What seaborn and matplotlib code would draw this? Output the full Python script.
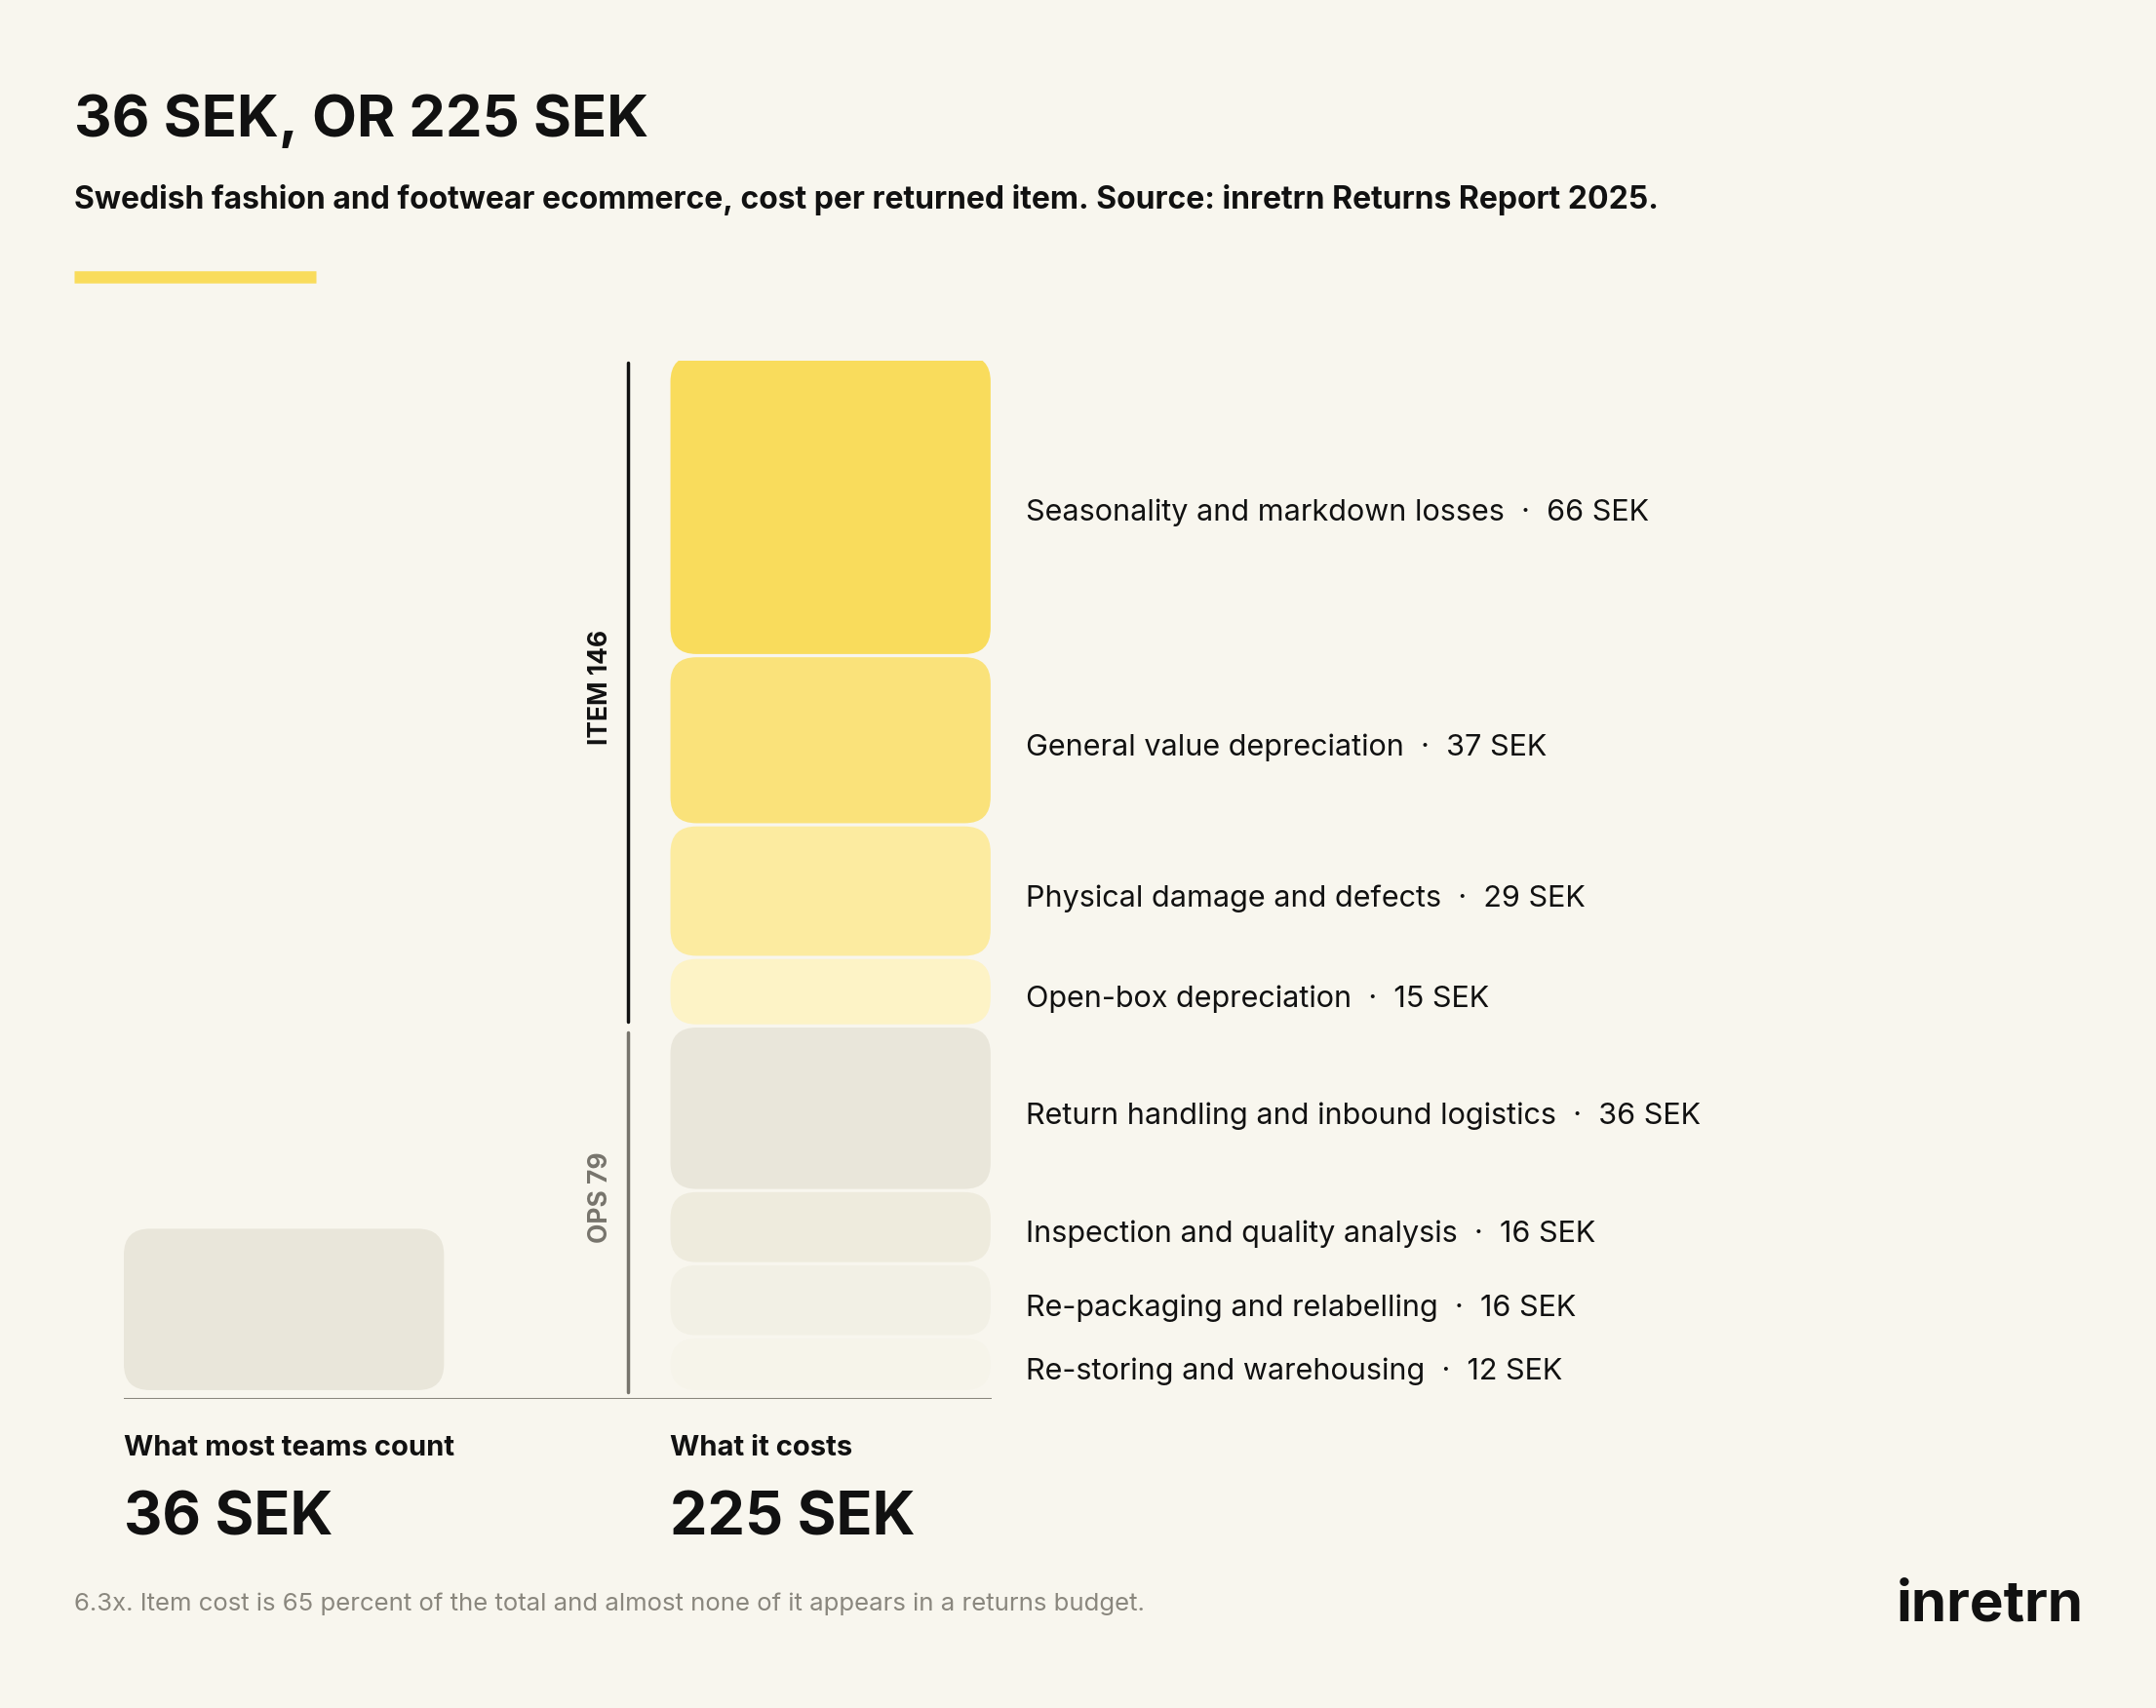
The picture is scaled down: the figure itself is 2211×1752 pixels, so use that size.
import matplotlib
matplotlib.use("Agg")
import matplotlib.pyplot as plt
import seaborn as sns
import pandas as pd
from matplotlib.patches import FancyBboxPatch

categories = ["Re-storing and warehousing", "Re-packaging and relabelling",
              "Inspection and quality analysis", "Return handling and inbound logistics",
              "Open-box depreciation", "Physical damage and defects",
              "General value depreciation", "Seasonality and markdown losses"]
values = [12, 16, 16, 36, 15, 29, 37, 66]
colors = ["#F6F4EA", "#F2F0E5", "#EEEBDD", "#E9E6DA",
          "#FDF3C6", "#FCEBA0", "#FAE27A", "#F9DC5C"]
counted = 36
ops_total = 79
item_total = 146
total = 225

BG = "#F8F6EE"
sns.set_theme(style="white")
plt.rcParams['font.family'] = ['Inter', 'DejaVu Sans']

fig = plt.figure(figsize=(22.11, 17.52), dpi=100, facecolor=BG)
W, H = 1568, 1242
def fx(x): return x / W
def fy(y): return 1 - y / H

fig.text(fx(54), fy(88), "36 SEK, OR 225 SEK", fontsize=43, fontweight="bold", va="center", ha="left", color="#111")
fig.text(fx(54), fy(145), "Swedish fashion and footwear ecommerce, cost per returned item. Source: inretrn Returns Report 2025.",
         fontsize=23, fontweight="bold", va="center", ha="left", color="#111")
fig.add_artist(plt.Line2D([fx(54), fx(230)], [fy(201), fy(201)], color="#F9DC5C", lw=9, solid_capstyle="butt"))

ax = fig.add_axes([fx(90), fy(1017), fx(721) - fx(90), fy(262) - fy(1017)])
ax.set_facecolor(BG)
ax.set_xlim(0, 1)
ax.set_ylim(-1.5, 225.6)
for s in ax.spines.values():
    s.set_visible(False)
ax.set_xticks([]); ax.set_yticks([])

def rbar(xc, w, b, h, c):
    gap = 0.35
    ax.add_patch(FancyBboxPatch((xc - w / 2, b + gap), w, h - 2 * gap,
                                boxstyle="round,pad=0,rounding_size=0.03",
                                mutation_aspect=225 * (631 / 748),
                                fc=c, ec="none"))

rbar(0.1846, 0.369, 0, counted, "#E9E6DA")
bottom = 0
for v, c, lab in zip(values, colors, categories):
    rbar(0.8146, 0.369, bottom, v, c)
    ax.text(1.04, bottom + v / 2 - 1.6, f"{lab}  ·  {v} SEK", fontsize=22, va="center", ha="left",
            color="#111", clip_on=False)
    bottom += v
ax.axhline(-1.5, color="#8a877e", lw=1.5)

xb = (457 - 90) / 631
ax.plot([xb, xb], [ops_total + 2, total], color="#111", lw=2.5, clip_on=False)
ax.plot([xb, xb], [0, ops_total - 0.5], color="#77746c", lw=2.5, clip_on=False)
xt = (437 - 90) / 631
ax.text(xt, ops_total + item_total / 2 + 2, f"ITEM {item_total}", rotation=90, fontsize=19, fontweight="bold",
        va="center", ha="center", color="#111")
ax.text(xt, ops_total / 2 + 3, f"OPS {ops_total}", rotation=90, fontsize=19, fontweight="bold",
        va="center", ha="center", color="#77746c")

fig.text(fx(90), fy(1053), "What most teams count", fontsize=21, fontweight="bold", va="center", color="#111")
fig.text(fx(90), fy(1105), f"{counted} SEK", fontsize=44, fontweight="bold", va="center", color="#111")
fig.text(fx(487), fy(1053), "What it costs", fontsize=21, fontweight="bold", va="center", color="#111")
fig.text(fx(487), fy(1105), f"{total} SEK", fontsize=44, fontweight="bold", va="center", color="#111")
fig.text(fx(54), fy(1166), "6.3x. Item cost is 65 percent of the total and almost none of it appears in a returns budget.",
         fontsize=18.5, va="center", color="#8a877e")
fig.text(fx(1515), fy(1168), "inretrn", fontsize=42, fontweight="bold", va="center", ha="right", color="#111")

fig.savefig("out.png", dpi=100, facecolor=BG)
